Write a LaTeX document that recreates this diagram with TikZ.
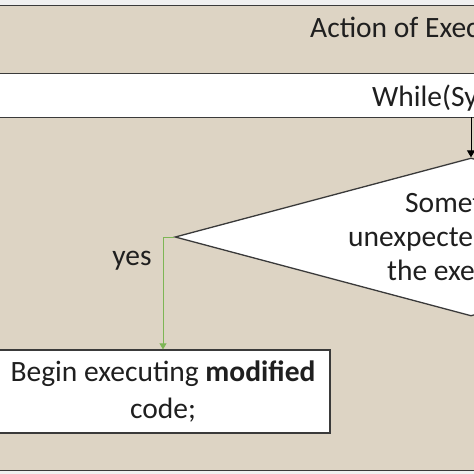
\documentclass[tikz,border=0pt]{standalone}
\usepackage{fontspec}
\setmainfont{Carlito}
\usetikzlibrary{shapes.geometric,arrows.meta}
\definecolor{tanbg}{RGB}{221,212,196}
\definecolor{edgec}{RGB}{58,58,58}
\definecolor{yesgreen}{RGB}{125,182,85}
\begin{document}
\begin{tikzpicture}[x=1pt,y=-1pt,
  font=\fontsize{29.5}{36.5}\selectfont,
  band/.style={draw=edgec,line width=1.3pt,inner sep=0pt,anchor=north west,minimum width=494pt},
  lbl/.style={anchor=base west,inner sep=0pt,text=black!88},
  arr/.style={draw=black,line width=0.9pt,-{Triangle[width=8pt,length=7pt]}},
  garr/.style={draw=yesgreen,line width=0.9pt,-{Triangle[width=7pt,length=6pt]}}]
\clip (0,0) rectangle (474,474);
\fill[black!6] (0,0) rectangle (474,474);
\node[band,fill=tanbg,minimum height=68pt] (header) at (-10,5) {};
\node[band,fill=white,minimum height=44pt] (whileband) at (-10,73) {};
\node[band,fill=tanbg,minimum height=353pt] (body) at (-10,117) {};
\node[lbl] (title) at (310,37) {Action of Exec};
\node[lbl] (while) at (372,106) {While(Sy};
\node[diamond,draw=edgec,fill=white,line width=1.3pt,inner sep=0pt,
  minimum width=592pt,minimum height=158pt] (dia) at (471,237) {};
\node[lbl] (d1) at (405,212) {Somet};
\node[lbl] (d2) at (348,246) {unexpecte};
\node[lbl] (d3) at (387,280) {the exe};
\coordinate (src) at (471,117);
\draw[arr] (src) -- (dia.north);
\node[draw=edgec,fill=white,line width=1.3pt,minimum width=334pt,minimum height=83pt,
  align=center,inner sep=0pt,text=black!88] (box) at (163,391.5)
  {Begin executing \textbf{modified}\\code;};
\draw[garr] (dia.west) -| (box.north);
\node[anchor=base,inner sep=0pt,text=black!88] (yes) at (132,265) {yes};
\end{tikzpicture}
\end{document}
